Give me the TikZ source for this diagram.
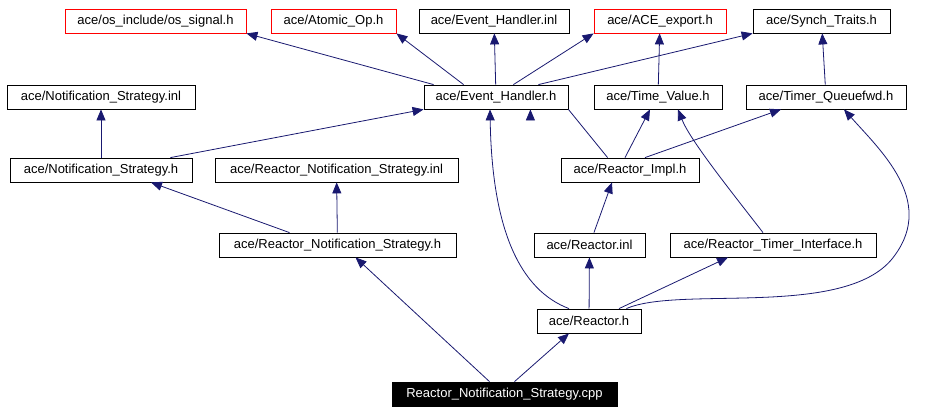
\documentclass[tikz,border=0pt]{standalone}
\usepackage{fontspec}
\setmainfont{Liberation Sans}
\usetikzlibrary{arrows.meta}
\begin{document}
\begin{tikzpicture}[x=1pt,y=-1pt,
 box/.style={draw=black,fill=white,minimum height=24,inner sep=0,line width=0.8,font=\fontsize{13}{14}\selectfont},
 red/.style={box,draw=red},
 e/.style={draw=midnightblue,-{Triangle[length=11,width=9]},line width=0.8},
 ]
\definecolor{midnightblue}{HTML}{191970}
\useasboundingbox (0,0) rectangle (932,415);
\node[red,minimum width=181] (os) at (155.5,21) {ace/os\_include/os\_signal.h};
\node[red,minimum width=125] (ao) at (333.5,21) {ace/Atomic\_Op.h};
\node[box,minimum width=150] (ehi) at (494,21) {ace/Event\_Handler.inl};
\node[red,minimum width=132] (ex) at (660,21) {ace/ACE\_export.h};
\node[box,minimum width=137] (st) at (821.5,21) {ace/Synch\_Traits.h};
\node[box,minimum width=188] (nsi) at (101,97) {ace/Notification\_Strategy.inl};
\node[box,minimum width=144] (eh) at (496,97) {ace/Event\_Handler.h};
\node[box,minimum width=128] (tv) at (658,97) {ace/Time\_Value.h};
\node[box,minimum width=160] (tq) at (826,97) {ace/Timer\_Queuefwd.h};
\node[box,minimum width=182] (ns) at (101,170) {ace/Notification\_Strategy.h};
\node[box,minimum width=243] (rnsi) at (336.5,170) {ace/Reactor\_Notification\_Strategy.inl};
\node[box,minimum width=138] (ri) at (630,170) {ace/Reactor\_Impl.h};
\node[box,minimum width=237] (rns) at (337.5,245) {ace/Reactor\_Notification\_Strategy.h};
\node[box,minimum width=111] (rinl) at (589.5,245) {ace/Reactor.inl};
\node[box,minimum width=206] (rti) at (773,245) {ace/Reactor\_Timer\_Interface.h};
\node[box,minimum width=104] (r) at (589,321) {ace/Reactor.h};
\node[box,fill=black,text=white,minimum width=225] (cpp) at (504.5,394) {Reactor\_Notification\_Strategy.cpp};
\draw[e] (eh.north west) ++(10,0) -- (os.south east);
\draw[e] (eh.north west) ++(40,0) -- (ao.south east);
\draw[e] (eh) -- (ehi);
\draw[e] (eh.north east) ++(-55,0) -- (ex.south west);
\draw[e] (eh.north east) ++(-30,0) -- (st.south west);
\draw[e] (tv) -- (ex);
\draw[e] (tq) -- (st);
\draw[e] (ns) -- (nsi);
\draw[e] (ns.north east) ++(-22,0) -- (eh.south west);
\draw[e] (ri.north west) ++(47,0) -- (eh.south east) ++(-38,0);
\draw[e] (ri.north) ++(-5,0) -- ([xshift=-8pt]tv.south);
\draw[e] (ri.north) ++(15,0) -- ([xshift=-45pt]tq.south);
\draw[e] (rns.north) ++(-48,0) -- ([xshift=50pt]ns.south);
\draw[e] (rns) -- (rnsi);
\draw[e] (rinl) -- ([xshift=-18pt]ri.south);
\draw[e] (rti.north) ++(-10,0) .. controls (730,190) and (690,140) .. ([xshift=20pt]tv.south);
\draw[e] (r) -- (rinl);
\draw[e] (r.north) ++(30,0) -- ([xshift=-45pt]rti.south);
\draw[e] (r.north) ++(-20,0) .. controls (520,290) and (492,230) .. ([xshift=-6pt]eh.south);
\draw[e] (r.north east) ++(-15,0) .. controls (680,285) and (850,320) .. (895,255) .. controls (935,200) and (880,150) .. ([xshift=18pt]tq.south);
\draw[e] (cpp.north) ++(-15,0) -- ([xshift=18pt]rns.south);
\draw[e] (cpp.north) ++(10,0) -- ([xshift=-20pt]r.south);
\end{tikzpicture}
\end{document}
